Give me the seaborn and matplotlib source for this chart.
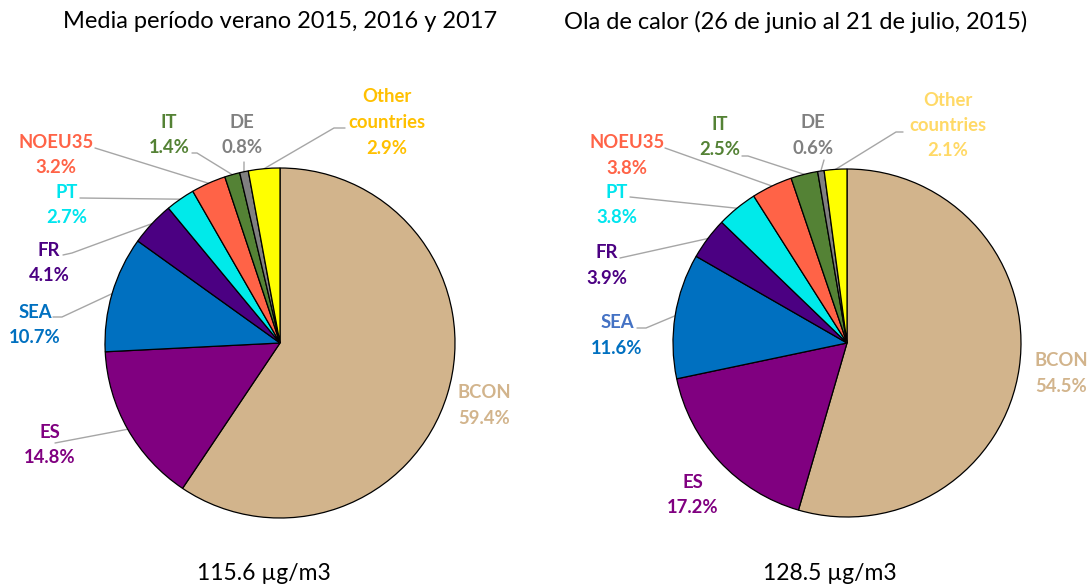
import numpy as np
import matplotlib
matplotlib.use("Agg")
import matplotlib.pyplot as plt
import seaborn as sns

# ---------------- data ----------------
sources = ["BCON", "ES", "SEA", "FR", "PT", "NOEU35", "IT", "DE", "Other\ncountries"]
summer_mean = [59.4, 14.8, 10.7, 4.1, 2.7, 3.2, 1.4, 0.8, 2.9]
heatwave = [54.5, 17.2, 11.6, 3.9, 3.8, 3.8, 2.5, 0.6, 2.1]
titles = ["Media período verano 2015, 2016 y 2017",
          "Ola de calor (26 de junio al 21 de julio, 2015)"]
totals = ["115.6 µg/m3", "128.5 µg/m3"]

slice_colors = ["#D2B48C", "#800080", "#0070C0", "#4B0082", "#00EAEA",
                "#FF6347", "#548235", "#808080", "#FFFF00"]
label_colors_left = ["#D2B48C", "#800080", "#0070C0", "#4B0082", "#00E5EE",
                     "#FF6347", "#548235", "#808080", "#FFC000"]
label_colors_right = ["#D2B48C", "#800080", "#0070C0", "#4B0082", "#00E5EE",
                      "#FF6347", "#548235", "#808080", "#FFD966"]

# ---------------- layout (pixel coords, y from top) ----------------
W, H = 1088, 585
pies = [
    dict(center=(280, 343), r=175, values=summer_mean, lcol=label_colors_left,
         title_xy=(280, 22), total_xy=(264, 573),
         # label centre (x, y of first line)
         labels=[(484, 393), (50, 432), (35, 312), (49, 250), (67, 192),
                 (56, 142), (169, 122), (242, 122), (387, 97)],
         leaders=[None, [(55, 443)], [(53, 317), (62, 317)], [(63, 255), (72, 253)],
                  [(80, 198)], [(95, 148)], [(192, 153), (197, 153)],
                  [(244, 162)], [(345, 128), (334, 128)]]),
    dict(center=(847, 343), r=174, values=heatwave, lcol=label_colors_right,
         title_xy=(796, 22), total_xy=(830, 573),
         labels=[(1061, 361), (693, 482), (617, 323), (607, 253), (617, 192),
                 (627, 143), (720, 124), (813, 123), (948, 100)],
         leaders=[None, None, [(637, 328), (646, 328)], [(620, 258)],
                  [(630, 197)], [(665, 148)], [(742, 156), (748, 156)],
                  [(824, 160)], [(903, 132), (896, 132)]]),
]
first_line_color_override = {1: {2: "#4472C4"}}  # right pie: "SEA" word lighter blue

sns.set_theme(style="white")
plt.rcParams["font.family"] = ["Lato", "DejaVu Sans"]

fig = plt.figure(figsize=(W / 100, H / 100), dpi=100)
ax = fig.add_axes([0, 0, 1, 1])

def Y(y):
    return H - y

for pi, p in enumerate(pies):
    cx, cy = p["center"]
    wedges, _ = ax.pie(p["values"], colors=slice_colors, startangle=90,
                       counterclock=False, radius=p["r"], center=(cx, Y(cy)),
                       wedgeprops=dict(edgecolor="black", linewidth=0.9),
                       frame=True)
    for i, (name, val) in enumerate(zip(sources, p["values"])):
        lx, ly = p["labels"][i]
        lines = name.split("\n")
        col = p["lcol"][i]
        for k, ln in enumerate(lines):
            c = first_line_color_override.get(pi, {}).get(i, col) if k == 0 else col
            ax.text(lx, Y(ly + 25.5 * k), ln, ha="center", va="center",
                    fontsize=13.3, fontweight="bold", color=c, zorder=5)
        ax.text(lx, Y(ly + 25.5 * len(lines)), f"{val:.1f}%", ha="center",
                va="center", fontsize=13.3, fontweight="bold", color=col, zorder=5)
        ld = p["leaders"][i]
        if ld:
            w = wedges[i]
            th = np.deg2rad((w.theta1 + w.theta2) / 2)
            ex = cx + p["r"] * np.cos(th)
            ey = Y(cy) + p["r"] * np.sin(th)
            xs = [q[0] for q in ld] + [ex]
            ys = [Y(q[1]) for q in ld] + [ey]
            ax.plot(xs, ys, color="#A6A6A6", linewidth=1.0, zorder=0.5)
    tx, ty = p["title_xy"]
    ax.text(tx, Y(ty), titles[pi], ha="center", va="center", fontsize=17,
            color="black", zorder=5)
    bx, by = p["total_xy"]
    ax.text(bx, Y(by), totals[pi], ha="center", va="center", fontsize=16.5,
            color="black", zorder=5)

ax.set_xlim(0, W)
ax.set_ylim(0, H)
ax.set_aspect("auto")
ax.axis("off")
fig.savefig("out.png", dpi=100)
